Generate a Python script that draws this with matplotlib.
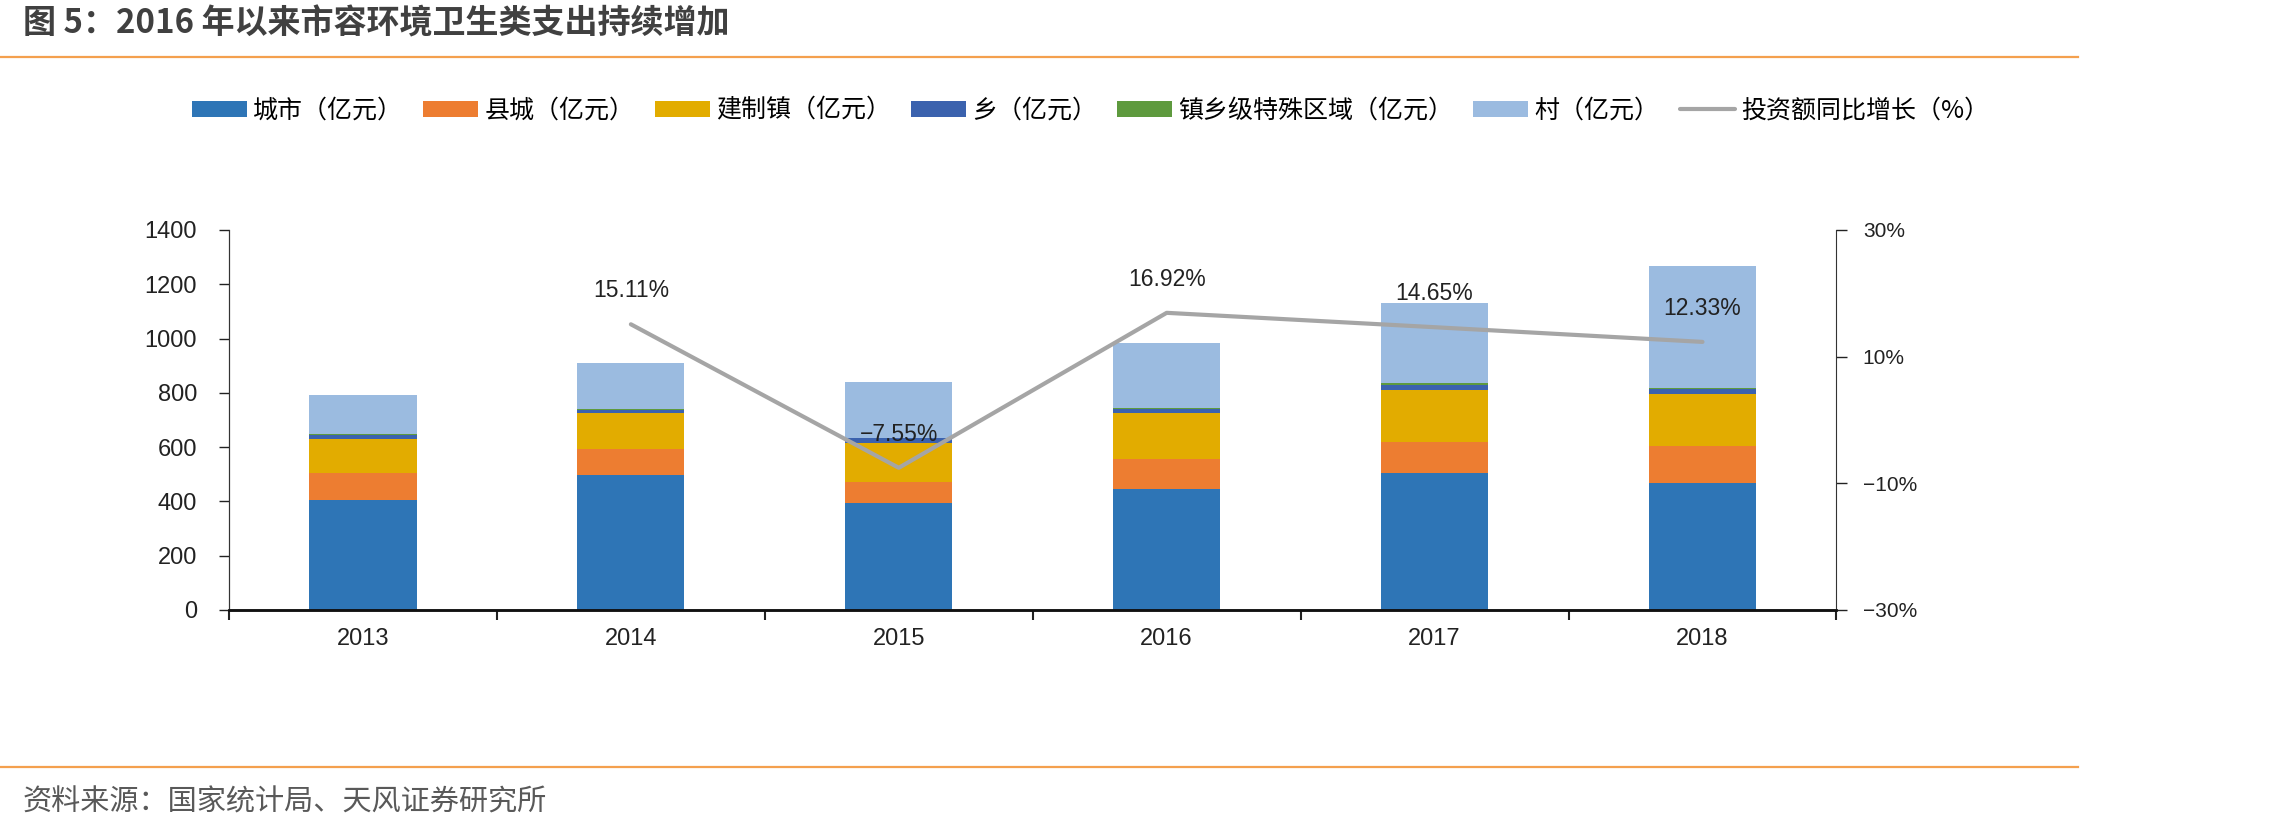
import numpy as np
import matplotlib
matplotlib.use("Agg")
import matplotlib.pyplot as plt
from matplotlib.ticker import FuncFormatter, FixedLocator

plt.rcParams["font.family"] = ["Liberation Sans", "Noto Sans CJK SC", "DejaVu Sans"]

# 数据（亿元）
years = ["2013", "2014", "2015", "2016", "2017", "2018"]
city = [405, 496, 395, 445, 505, 468]
county = [101, 96, 78, 113, 115, 137]
town = [123, 134, 144, 169, 190, 192]
xiang = [15, 12, 16, 13, 20, 17]
special = [4, 2, 1, 5, 5, 5]
village = [144, 171, 205, 237, 295, 448]
growth = [np.nan, 15.11, -7.55, 16.92, 14.65, 12.33]

series_names = ["城市（亿元）", "县城（亿元）", "建制镇（亿元）", "乡（亿元）",
                "镇乡级特殊区域（亿元）", "村（亿元）"]
line_name = "投资额同比增长（%）"
colors = ["#2E75B6", "#ED7D31", "#E2AC00", "#3B62AE", "#5E9A3E", "#9BBBE0"]

cjk = ["Noto Sans CJK SC", "DejaVu Sans"]

fig = plt.figure(figsize=(22.79, 8.30), dpi=100)
ax = fig.add_axes([0.1005, 0.2651, 0.7053, 0.4578])
ax2 = ax.twinx()

x = np.arange(len(years))
bottom = np.zeros(len(years))
for vals, name, c in zip([city, county, town, xiang, special, village], series_names, colors):
    ax.bar(x, vals, width=0.4, bottom=bottom, color=c, label=name, zorder=2)
    bottom += np.array(vals)

ax2.plot(x, growth, color="#A5A5A5", lw=3, solid_capstyle="round", label=line_name, zorder=3)
for xi, g in zip(x, growth):
    if np.isnan(g):
        continue
    ax2.annotate(f"{g:.2f}%".replace("-", "\u2212"), (xi, g), xytext=(0, 24),
                 textcoords="offset points", ha="center", va="center",
                 fontsize=16.5, color="#222222")

# 左轴
ax.set_xlim(-0.5, 5.5)
ax.set_ylim(0, 1400)
ax.set_yticks(np.arange(0, 1401, 200))
ax.tick_params(axis="y", direction="out", length=7, width=1, pad=16, labelsize=17, colors="#222222")
ax.xaxis.set_major_locator(FixedLocator(np.arange(-0.5, 5.6, 1)))
ax.xaxis.set_minor_locator(FixedLocator(x))
ax.set_xticklabels([], minor=False)
ax.set_xticklabels(years, minor=True)
ax.tick_params(axis="x", which="major", direction="out", length=7, width=1.5, color="#222222")
ax.tick_params(axis="x", which="minor", length=0, pad=13, labelsize=17, labelcolor="#222222")

# 右轴
ax2.set_ylim(-30, 30)
ax2.set_yticks([-30, -10, 10, 30])
ax2.yaxis.set_major_formatter(FuncFormatter(lambda v, p: f"{v:.0f}%".replace("-", "\u2212")))
ax2.tick_params(axis="y", direction="out", length=8, width=1, pad=11, labelsize=15, colors="#222222")

for a in (ax, ax2):
    a.spines["top"].set_visible(False)
    a.spines["left"].set_color("#333333")
    a.spines["right"].set_color("#333333")
    a.spines["bottom"].set_color("#111111")
    a.spines["bottom"].set_linewidth(1.8)
ax.spines["right"].set_visible(False)

# 图例
h1, l1 = ax.get_legend_handles_labels()
h2, l2 = ax2.get_legend_handles_labels()
fig.legend(h1 + h2, l1 + l2, loc="center", bbox_to_anchor=(0.4785, 0.867), ncol=7,
           frameon=False, prop={"family": cjk, "size": 18}, handlelength=2.2,
           handleheight=0.6, handletextpad=0.25, columnspacing=0.8)

# 标题与来源
fig.text(0.010, 1 - 24 / 830, "图 5：2016 年以来市容环境卫生类支出持续增加", family=cjk,
         fontsize=23.8, fontweight="bold", color="#404040", va="center", ha="left")
fig.add_artist(plt.Line2D([0, 2078 / 2279], [1 - 57 / 830] * 2, color="#F4A04E", lw=1.6))
fig.add_artist(plt.Line2D([0, 2078 / 2279], [1 - 767 / 830] * 2, color="#F4A04E", lw=1.6))
fig.text(0.0097, 1 - 802 / 830, "资料来源：国家统计局、天风证券研究所", family=cjk,
         fontsize=21, color="#595959", va="center", ha="left")

fig.savefig("out.png", dpi=100)
